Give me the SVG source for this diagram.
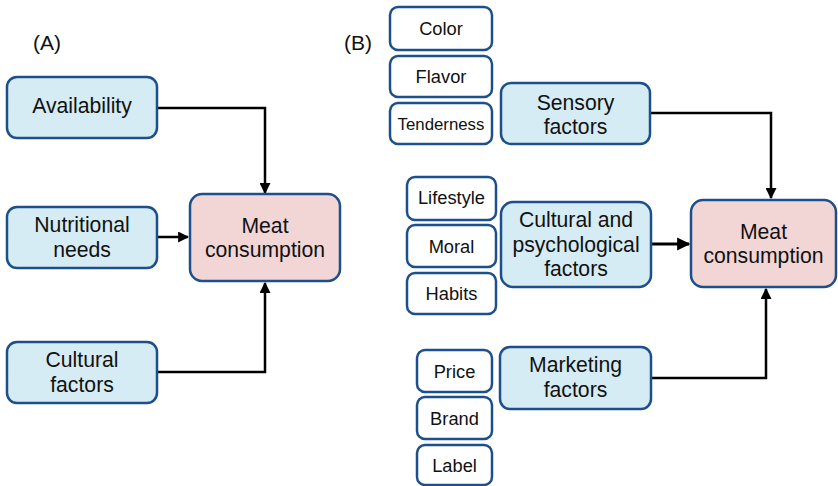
<svg xmlns="http://www.w3.org/2000/svg" width="838" height="486" viewBox="0 0 838 486">
<defs>
<marker id="ah" viewBox="0 0 10 10" refX="9" refY="5" markerWidth="4.4" markerHeight="4.4" orient="auto" markerUnits="strokeWidth">
<path d="M0,0 L10,5 L0,10 Z" fill="#000"/>
</marker>
<style>
.f{fill:#d6ecf4;stroke:#1d4f8a;stroke-width:2.5}
.m{fill:#f2d6d6;stroke:#1d4f8a;stroke-width:2.5}
.s{fill:#fff;stroke:#1d4f8a;stroke-width:2.5}
text{font-family:"Liberation Sans",Arial,sans-serif;fill:#111;text-anchor:middle}
.b{font-size:21.2px}
.t{font-size:18.3px}
.lab{font-size:21px;text-anchor:start}
.c{fill:none;stroke:#000;stroke-width:2.5}
</style>
</defs>
<rect width="838" height="486" fill="#fff"/>
<text class="lab" x="33" y="50">(A)</text>
<text class="lab" x="344" y="50">(B)</text>
<g id="connectors">
<path class="c" d="M157,108 H265 V193" marker-end="url(#ah)"/>
<path class="c" d="M157,237 H188" marker-end="url(#ah)"/>
<path class="c" d="M157,372 H265 V283" marker-end="url(#ah)"/>
<path class="c" d="M650,113 H771 V198" marker-end="url(#ah)"/>
<path class="c" d="M651,244 H689" marker-end="url(#ah)" style="stroke-width:3"/>
<path class="c" d="M651,378 H766 V289" marker-end="url(#ah)"/>
</g>
<g id="availability"><rect class="f" x="7" y="77" width="150" height="61" rx="10"/><text class="b" x="82" y="113">Availability</text></g>
<g id="nutritional"><rect class="f" x="7" y="207" width="150" height="61" rx="10"/><text class="b" x="82" y="232">Nutritional</text><text class="b" x="82" y="257">needs</text></g>
<g id="cultural-a"><rect class="f" x="7" y="342" width="150" height="61" rx="10"/><text class="b" x="82" y="367">Cultural</text><text class="b" x="82" y="392">factors</text></g>
<g id="meat-a"><rect class="m" x="190" y="194" width="150" height="87" rx="12"/><text class="b" x="265" y="233">Meat</text><text class="b" x="265" y="257">consumption</text></g>

<g id="color"><rect class="s" x="390" y="7" width="102" height="43" rx="8"/><text class="t" x="441" y="35">Color</text></g>
<g id="flavor"><rect class="s" x="390" y="56" width="102" height="41" rx="8"/><text class="t" x="441" y="83">Flavor</text></g>
<g id="tenderness"><rect class="s" x="390" y="103" width="102" height="41" rx="8"/><text class="t" x="441" y="130" style="font-size:16.8px">Tenderness</text></g>
<g id="sensory"><rect class="f" x="501" y="83" width="149" height="61" rx="10"/><text class="b" x="575.5" y="110">Sensory</text><text class="b" x="575.5" y="134">factors</text></g>

<g id="lifestyle"><rect class="s" x="407" y="177" width="89" height="43" rx="8"/><text class="t" x="451.5" y="204">Lifestyle</text></g>
<g id="moral"><rect class="s" x="407" y="225" width="89" height="42" rx="8"/><text class="t" x="451.5" y="252.5">Moral</text></g>
<g id="habits"><rect class="s" x="407" y="273" width="89" height="41" rx="8"/><text class="t" x="451.5" y="300">Habits</text></g>
<g id="cultural-b"><rect class="f" x="501" y="202" width="150" height="85" rx="12"/><text class="b" x="576" y="227">Cultural and</text><text class="b" x="576" y="252">psychological</text><text class="b" x="576" y="276">factors</text></g>

<g id="price"><rect class="s" x="417" y="350" width="75" height="42" rx="8"/><text class="t" x="454.5" y="377.5">Price</text></g>
<g id="brand"><rect class="s" x="417" y="397" width="75" height="42" rx="8"/><text class="t" x="454.5" y="424.5">Brand</text></g>
<g id="label"><rect class="s" x="417" y="445" width="75" height="40" rx="8"/><text class="t" x="454.5" y="471.5">Label</text></g>
<g id="marketing"><rect class="f" x="500" y="347" width="151" height="62" rx="10"/><text class="b" x="575.5" y="372">Marketing</text><text class="b" x="575.5" y="397">factors</text></g>

<g id="meat-b"><rect class="m" x="691" y="200" width="145" height="87" rx="12"/><text class="b" x="763.5" y="239">Meat</text><text class="b" x="763.5" y="263">consumption</text></g>
</svg>
